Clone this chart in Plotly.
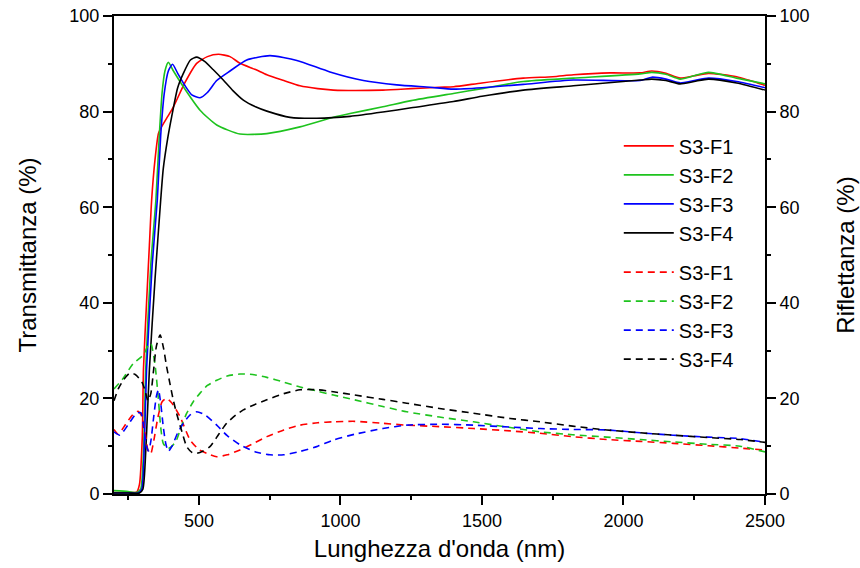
import plotly.graph_objects as go

# Transmittance (%) vs wavelength (nm)
t1_nm = [200, 250, 280, 290, 300, 304, 315, 325, 333, 345, 357, 368, 390, 410, 450, 492, 530, 569,
         610, 645, 700, 740, 800, 857, 920, 975, 1050, 1150, 1250, 1350, 1400, 1500, 1646, 1750,
         1823, 1953, 2059, 2100, 2150, 2200, 2250, 2300, 2400, 2500]
t1_val = [0.3, 0.3, 0.4, 2, 12, 26, 40, 52, 61.5, 70, 75.4, 76.8, 79, 81, 86, 90.1, 91.5, 92,
          91.5, 90.1, 88.8, 87.7, 86.5, 85.4, 84.8, 84.5, 84.4, 84.5, 84.8, 85.1, 85.2, 86.0, 87.0, 87.3,
          87.7, 88.1, 88.1, 88.5, 88.0, 87.0, 87.5, 88.0, 87.3, 85.5]

t2_nm = [200, 250, 280, 294, 305, 312, 330, 348, 360, 370, 380, 392, 410, 445, 504, 563, 645,
         740, 857, 975, 1034, 1150, 1250, 1399, 1500, 1646, 1823, 2059, 2100, 2150, 2200, 2250,
         2300, 2400, 2500]
t2_val = [0.7, 0.5, 0.3, 1, 10, 26, 48, 61.5, 75, 84, 88.5, 90.3, 88.5, 85.2, 80.3, 77.2, 75.3,
          75.4, 76.8, 78.8, 79.6, 81.0, 82.3, 83.8, 84.8, 86.3, 87.0, 87.9, 88.2, 87.8, 86.8, 87.5,
          88.2, 87.0, 85.8]

t3_nm = [200, 250, 285, 298, 307, 315, 335, 353, 365, 378, 392, 407, 425, 450, 475, 504, 530,
         563, 610, 669, 751, 846, 963, 1081, 1199, 1317, 1399, 1500, 1646, 1823, 2059, 2100, 2150,
         2200, 2250, 2300, 2400, 2500]
t3_val = [0.2, 0.2, 0.2, 1, 10, 26, 48, 61.5, 75, 84, 88.5, 89.9, 88, 85.5, 83.5, 82.9, 84,
          86.5, 88.5, 90.8, 91.7, 90.7, 88.3, 86.5, 85.6, 85.1, 84.7, 85.0, 85.7, 86.6, 86.5, 87.2,
          86.8, 86.0, 86.5, 87.0, 86.3, 85.0]

t4_nm = [200, 250, 290, 302, 313, 325, 345, 365, 374, 390, 404, 425, 445, 470, 492, 520, 550,
         586, 620, 657, 700, 740, 822, 916, 1034, 1150, 1250, 1399, 1500, 1646, 1823, 2059, 2100,
         2150, 2200, 2250, 2300, 2400, 2500]
t4_val = [0.2, 0.2, 0.2, 1, 10, 26, 45, 61.5, 68, 74.5, 79, 85, 88, 90.8, 91.4, 90.5, 88.8,
          86.6, 84.4, 82.4, 81.0, 80.1, 78.8, 78.6, 79.0, 79.9, 80.8, 82.1, 83.2, 84.5, 85.4, 86.6,
          86.8, 86.5, 85.8, 86.3, 86.8, 86.0, 84.5]

# Reflectance (%) vs wavelength (nm)
r1_nm = [200, 215, 240, 265, 285, 300, 312, 322, 330, 340, 355, 370, 386, 405, 433, 469, 500,
         528, 563, 600, 645, 700, 740, 800, 857, 920, 975, 1050, 1150, 1234, 1350, 1470, 1600,
         1705, 1820, 1941, 2060, 2176, 2300, 2412, 2500]
r1_val = [13.5, 12.5, 14.5, 16.5, 17.3, 16, 12, 8.7, 8.5, 11, 16, 19.3, 20, 19, 16.2, 11.3, 9.3,
          8.5, 7.8, 8.2, 9.2, 10.8, 12, 13.4, 14.4, 14.9, 15.1, 15.2, 14.8, 14.4, 14.1, 13.7, 13.2,
          12.7, 12.0, 11.4, 11.0, 10.6, 10.1, 9.6, 9.2]

r2_nm = [200, 230, 268, 304, 320, 330, 345, 357, 365, 374, 390, 405, 421, 440, 457, 480, 504,
         530, 563, 600, 645, 690, 740, 800, 857, 920, 975, 1050, 1150, 1234, 1350, 1470, 1600,
         1705, 1820, 1941, 2060, 2176, 2300, 2412, 2500]
r2_val = [22, 24, 27.3, 29.1, 31, 31.5, 27, 19.7, 14, 10.6, 9.5, 10, 11.3, 14.5, 16.9, 19.3, 21.1,
          22.7, 23.8, 24.7, 25.1, 25, 24.4, 23.4, 22.4, 21.5, 20.7, 19.7, 18.3, 17.2, 16.1, 15.1, 13.9,
          13.0, 12.4, 11.9, 11.4, 10.9, 10.4, 10.0, 8.8]

r3_nm = [200, 221, 250, 280, 295, 305, 315, 322, 330, 340, 350, 357, 365, 374, 383, 392, 405,
         425, 445, 470, 492, 520, 563, 600, 645, 700, 751, 800, 857, 920, 975, 1050, 1150, 1234,
         1350, 1470, 1600, 1705, 1820, 1941, 2060, 2176, 2300, 2412, 2500]
r3_val = [13, 12.3, 14.5, 16.9, 17, 14, 10, 9, 11, 16, 20.5, 21.8, 19, 14.1, 10.5, 8.9, 10,
          12.8, 14.8, 16.6, 17.2, 16.6, 14.4, 12.2, 10.3, 8.8, 8.2, 8.2, 8.9, 10, 11.3, 12.5, 13.7, 14.4,
          14.6, 14.4, 14.0, 13.7, 13.5, 13.4, 12.8, 12.3, 11.9, 11.6, 10.8]

r4_nm = [200, 215, 235, 256, 275, 298, 309, 320, 330, 340, 350, 363, 375, 386, 398, 410, 421,
         440, 457, 475, 492, 515, 539, 570, 598, 630, 657, 700, 740, 800, 857, 920, 975, 1050,
         1150, 1234, 1350, 1470, 1600, 1705, 1820, 1941, 2060, 2176, 2300, 2412, 2500]
r4_val = [19.5, 22, 24, 25.3, 25, 23.5, 21.8, 19.5, 21, 26, 31, 33.3, 30.5, 26.6, 23, 19.5, 16.9,
          13, 9.9, 8.7, 8.5, 9, 9.9, 12.5, 14.8, 16.5, 17.6, 18.8, 19.7, 21, 21.8, 21.8, 21.4, 20.7,
          19.8, 19.0, 17.9, 16.9, 15.8, 15.1, 14.2, 13.4, 12.8, 12.3, 11.8, 11.4, 10.8]

names = ["S3-F1", "S3-F2", "S3-F3", "S3-F4"]
colors = ["#ff0000", "#1ec31e", "#0000ff", "#000000"]
trans = [(t1_nm, t1_val), (t2_nm, t2_val), (t3_nm, t3_val), (t4_nm, t4_val)]
refl = [(r1_nm, r1_val), (r2_nm, r2_val), (r3_nm, r3_val), (r4_nm, r4_val)]

FONT = "Liberation Sans, Arial, sans-serif"

fig = go.Figure()
# solid lines: transmittance (left axis), listed in the first legend
for name, color, (x, y) in zip(names, colors, trans):
    fig.add_trace(go.Scatter(
        x=x, y=y, name=name, mode="lines", legend="legend",
        line=dict(color=color, width=1.6, shape="spline", smoothing=0.6),
    ))
# dashed lines: reflectance (right axis), listed in the second legend
for name, color, (x, y) in zip(names, colors, refl):
    fig.add_trace(go.Scatter(
        x=x, y=y, name=name, mode="lines", legend="legend2", yaxis="y2",
        line=dict(color=color, width=1.6, dash="7px,5px", shape="spline", smoothing=0.6),
    ))

axis_common = dict(
    showline=True, linewidth=2, linecolor="black", showgrid=False, zeroline=False,
    ticks="outside", ticklen=9, tickwidth=2, tickcolor="black", automargin=False,
    tickfont=dict(family=FONT, size=18, color="black"),
)
title_font = dict(family=FONT, size=24, color="black")
legend_common = dict(
    xanchor="left", yanchor="top", bgcolor="rgba(0,0,0,0)", borderwidth=0,
    font=dict(family=FONT, size=20, color="black"), itemwidth=50,
)

fig.update_layout(
    width=860, height=568,
    margin=dict(l=114, r=95, t=16, b=74, autoexpand=False),
    paper_bgcolor="white", plot_bgcolor="white",
    font=dict(family=FONT, color="black"),
    xaxis=dict(
        **axis_common, range=[200, 2500], dtick=500, tick0=0, mirror=True,
        minor=dict(ticks="outside", dtick=250, tick0=0, ticklen=4, tickwidth=2, tickcolor="black"),
        title=dict(text="Lunghezza d'onda (nm)", font=title_font, standoff=11),
    ),
    yaxis=dict(
        **axis_common, range=[0, 100], dtick=20,
        minor=dict(ticks="outside", dtick=10, ticklen=4, tickwidth=2, tickcolor="black"),
        title=dict(text="Transmittanza (%)", font=title_font, standoff=26),
    ),
    yaxis2=dict(
        **axis_common, range=[0, 100], dtick=20, overlaying="y", side="right",
        minor=dict(ticks="outside", dtick=10, ticklen=4, tickwidth=2, tickcolor="black"),
        title=dict(text="Riflettanza (%)", font=title_font, standoff=29),
    ),
    legend=dict(**legend_common, x=0.7754, y=0.769),
    legend2=dict(**legend_common, x=0.7754, y=0.505),
    showlegend=True,
)

fig.write_html("out.html")
